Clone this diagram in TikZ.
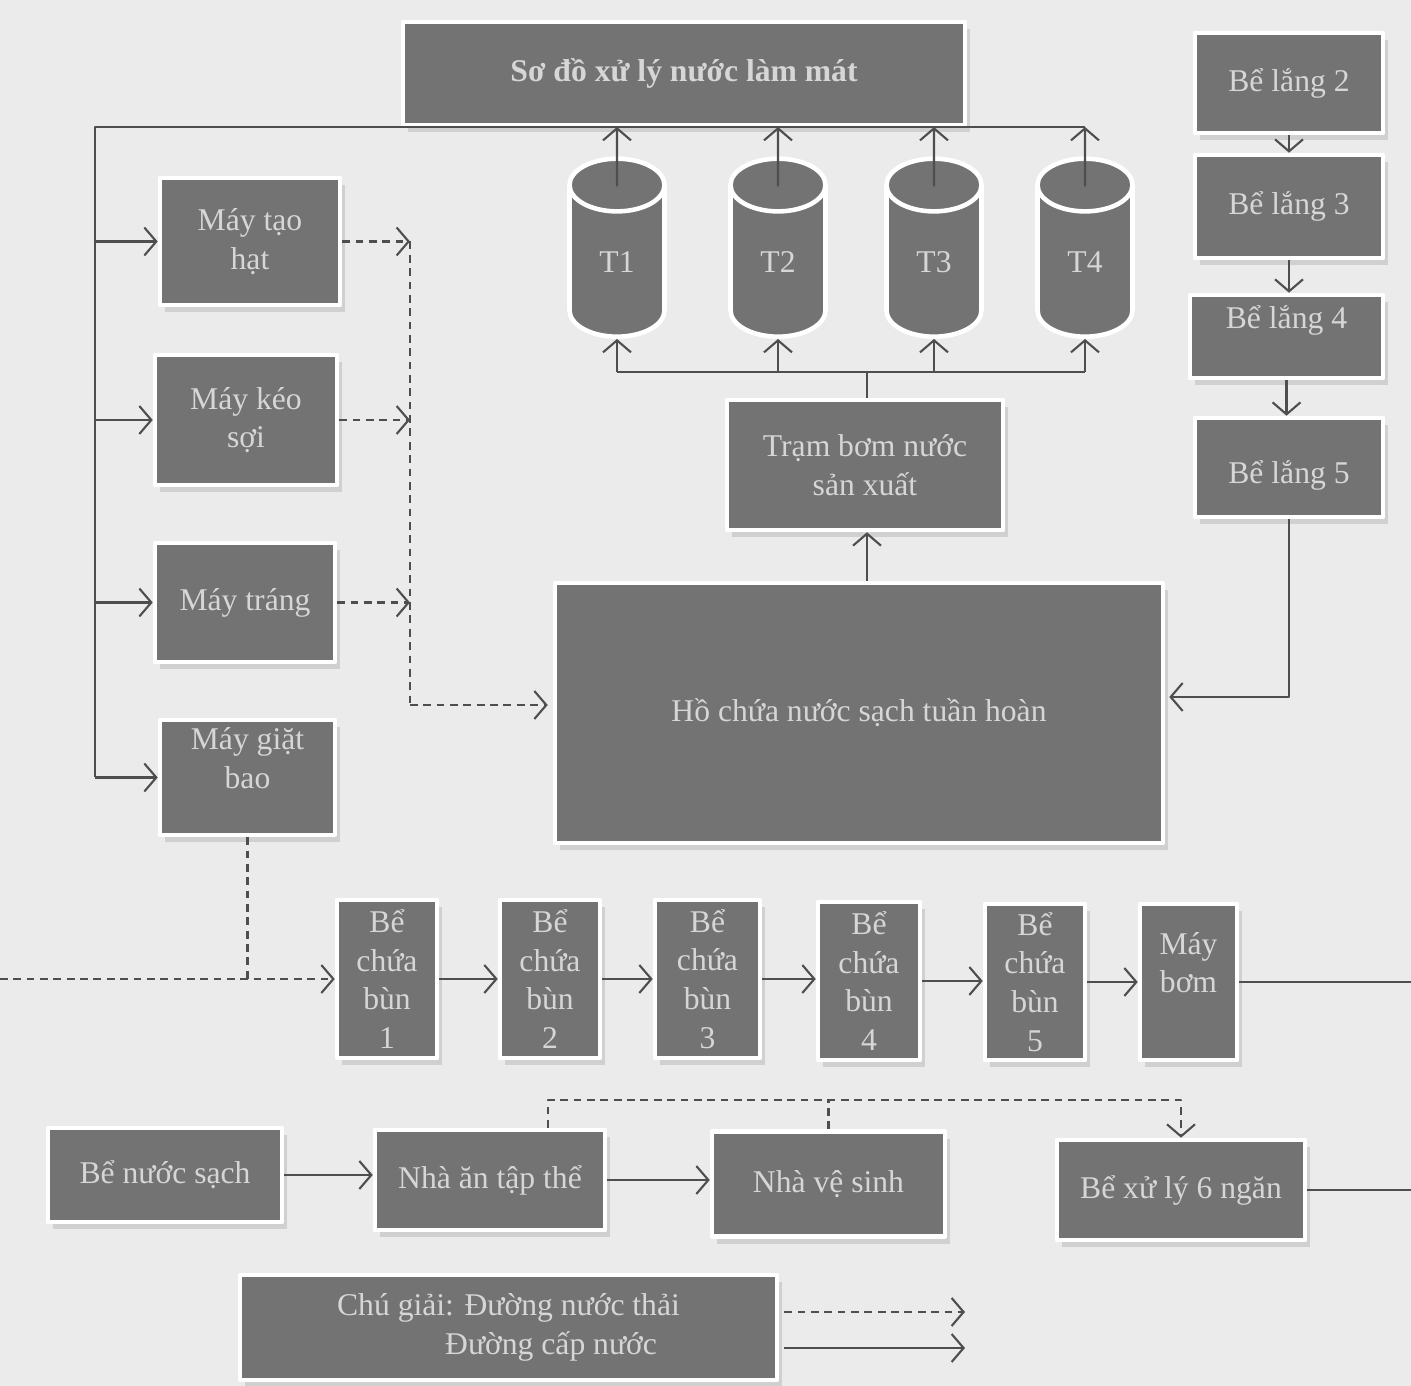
\documentclass[tikz,border=0pt]{standalone}
\usepackage{fontspec}
\setmainfont{Liberation Serif}
\usetikzlibrary{arrows.meta,shapes.geometric,calc,shadows}

\definecolor{paper}{HTML}{EBEBEB}
\definecolor{boxgray}{HTML}{737373}
\definecolor{boxtext}{HTML}{D6D6D6}
\definecolor{linegray}{HTML}{4E4E4E}

\tikzset{
	box/.style={rectangle, fill=boxgray, draw=white, line width=1.3pt, text=boxtext, align=center, inner sep=1pt,
		font=\fontsize{9}{11}\selectfont,
		drop shadow={shadow xshift=0.5mm, shadow yshift=-0.7mm, fill=black!25, opacity=0.6}},
	tank/.style={cylinder, shape border rotate=90, aspect=1.5, draw=white, line width=1.3pt,
		cylinder uses custom fill, cylinder body fill=boxgray, cylinder end fill=boxgray,
		text=boxtext, minimum width=0.95cm, minimum height=1.78cm, inner sep=0pt,
		font=\fontsize{9}{11}\selectfont},
	pipe/.style={draw=linegray, line width=0.6pt},
	flow/.style={pipe, -{Straight Barb[length=1.2mm,width=2.8mm]}},
	wasteline/.style={pipe, dash pattern=on 2.2pt off 1.6pt},
	waste/.style={flow, dash pattern=on 2.2pt off 1.6pt},
}

\begin{document}
\begin{tikzpicture}[line join=round]
	% Page background
	\fill[paper] (0,0) rectangle (14.11,-13.86);
	\useasboundingbox (0,0) rectangle (14.11,-13.86);
	
	% Key coordinates
	\coordinate (topL) at (0.95,-1.27);     % Top left corner of supply loop
	\coordinate (dashX) at (4.10,-7.05);    % Bottom of waste collector
	\coordinate (split) at (8.67,-3.72);    % Pump station branch
	\coordinate (sludgeIn) at (0,-9.79);    % Waste coming from the left
	\coordinate (pumpOut) at (14.11,-9.83); % Pump outlet at the edge
	\coordinate (wasteTop) at (5.48,-11.00);% Top of kitchen waste line
	\coordinate (sepOut) at (14.11,-11.88); % Separator outlet at the edge
	\coordinate (keyWaste) at (9.65,-13.12);
	\coordinate (keyFeed) at (9.65,-13.48);
	
	% Title
	\node[box, minimum width=5.62cm, minimum height=1.03cm, font=\fontsize{9}{11}\selectfont\bfseries] (title) at (6.84,-0.735) {Sơ đồ xử lý nước làm mát};
	
	% Machines
	\node[box, minimum width=1.80cm, minimum height=1.27cm] (taohat) at (2.50,-2.415) {Máy tạo\\hạt};
	\node[box, minimum width=1.82cm, minimum height=1.30cm] (keosoi) at (2.46,-4.20) {Máy kéo\\sợi};
	\node[box, minimum width=1.80cm, minimum height=1.19cm] (trang) at (2.45,-6.025) {Máy tráng};
	\node[box, minimum width=1.75cm, minimum height=1.15cm] (giatbao) at (2.475,-7.775) {Máy giặt\\bao\\\mbox{}};
	
	% Cooling tanks
	\node[tank] (T1) at (6.17,-2.62) {T1};
	\node[tank] (T2) at (7.78,-2.62) {T2};
	\node[tank] (T3) at (9.34,-2.62) {T3};
	\node[tank] (T4) at (10.85,-2.62) {T4};
	
	% Pump station and reservoir
	\node[box, minimum width=2.76cm, minimum height=1.30cm] (tram) at (8.65,-4.65) {Trạm bơm nước\\sản xuất};
	\node[box, minimum width=6.08cm, minimum height=2.60cm] (ho) at (8.59,-7.13) {Hồ chứa nước sạch tuần hoàn};
	
	% Settling tanks
	\node[box, minimum width=1.88cm, minimum height=1.00cm] (lang2) at (12.89,-0.83) {Bể lắng 2};
	\node[box, minimum width=1.88cm, minimum height=1.03cm] (lang3) at (12.89,-2.065) {Bể lắng 3};
	\node[box, minimum width=1.93cm, minimum height=0.83cm] (lang4) at (12.865,-3.365) {Bể lắng 4\\\mbox{}};
	\node[box, minimum width=1.88cm, minimum height=0.99cm] (lang5) at (12.89,-4.675) {\mbox{}\\Bể lắng 5};
	
	% Sludge tanks
	\node[box, minimum width=1.00cm, minimum height=1.58cm] (bun1) at (3.87,-9.79) {Bể\\chứa\\bùn\\1};
	\node[box, minimum width=1.00cm, minimum height=1.58cm] (bun2) at (5.50,-9.79) {Bể\\chứa\\bùn\\2};
	\node[box, minimum width=1.05cm, minimum height=1.58cm] (bun3) at (7.075,-9.79) {Bể\\chứa\\bùn\\3};
	\node[box, minimum width=1.02cm, minimum height=1.58cm] (bun4) at (8.69,-9.81) {Bể\\chứa\\bùn\\4};
	\node[box, minimum width=1.00cm, minimum height=1.56cm] (bun5) at (10.35,-9.82) {Bể\\chứa\\bùn\\5};
	\node[box, minimum width=0.97cm, minimum height=1.56cm] (maybom) at (11.885,-9.82) {Máy\\bơm\\\mbox{}};
	
	% Domestic water
	\node[box, minimum width=2.34cm, minimum height=0.94cm] (benuoc) at (1.65,-11.75) {Bể nước sạch};
	\node[box, minimum width=2.30cm, minimum height=1.00cm] (nhaan) at (4.90,-11.80) {Nhà ăn tập thể};
	\node[box, minimum width=2.33cm, minimum height=1.05cm] (vesinh) at (8.285,-11.84) {Nhà vệ sinh};
	\node[box, minimum width=2.48cm, minimum height=1.00cm] (xuly) at (11.81,-11.90) {Bể xử lý 6 ngăn};
	
	% Legend
	\node[box, minimum width=5.37cm, minimum height=1.05cm, align=left] (legend) at (5.085,-13.275) {Chú giải: Đường nước thải\\\phantom{Chú giải}Đường cấp nước};
	
	% Supply loop to the machines
	\draw[pipe] (topL |- giatbao.west) -- (topL) -- (topL -| T4);
	\foreach \m in {taohat,keosoi,trang,giatbao}
		\draw[flow] (topL |- \m.west) -- (\m.west);
	
	% Waste from machines to the reservoir
	\foreach \m in {taohat,keosoi,trang}
		\draw[waste] (\m.east) -- (\m.east -| dashX);
	\draw[wasteline] (taohat.east -| dashX) -- (dashX);
	\draw[waste] (dashX) -- ($(ho.west |- dashX)+(-0.05,0)$);
	
	% Reservoir -> pump station -> tanks -> loop
	\draw[flow] (ho.north -| split) -- (tram.south -| split);
	\draw[pipe] (tram.north -| split) -- (split);
	\draw[pipe] (T1 |- split) -- (T4 |- split);
	\foreach \t in {T1,T2,T3,T4} {
		\draw[flow] (\t |- split) -- (\t.south);
		\draw[flow] ($(\t.north)+(0,-0.3)$) -- (\t |- topL);
	}
	
	% Settling chain back to the reservoir
	\foreach \a/\b in {lang2/lang3,lang3/lang4,lang4/lang5}
		\draw[flow] (\a.south) -- (\a.south |- \b.north);
	\draw[flow] (lang5.south) |- ($(ho.east)+(0.04,0.16)$);
	
	% Sludge line
	\draw[wasteline] (giatbao.south) -- (giatbao.south |- sludgeIn);
	\draw[waste] (sludgeIn) -- (bun1.west);
	\foreach \a/\b in {bun1/bun2,bun2/bun3,bun3/bun4,bun4/bun5,bun5/maybom}
		\draw[flow] (\a.east) -- (\a.east -| \b.west);
	\draw[pipe] (maybom.east) -- (maybom.east -| pumpOut);
	
	% Domestic water
	\draw[flow] (benuoc.east) -- (benuoc.east -| nhaan.west);
	\draw[flow] (nhaan.east) -- (nhaan.east -| vesinh.west);
	\draw[waste] (nhaan.north -| wasteTop) |- (xuly.north |- wasteTop) -- (xuly.north);
	\draw[wasteline] (vesinh.north) -- (vesinh.north |- wasteTop);
	\draw[pipe] (xuly.east) -- (xuly.east -| sepOut);
	
	% Legend arrows
	\draw[waste] ($(keyWaste -| legend.east)+(0.05,0)$) -- (keyWaste);
	\draw[flow] ($(keyFeed -| legend.east)+(0.05,0)$) -- (keyFeed);
\end{tikzpicture}
\end{document}
